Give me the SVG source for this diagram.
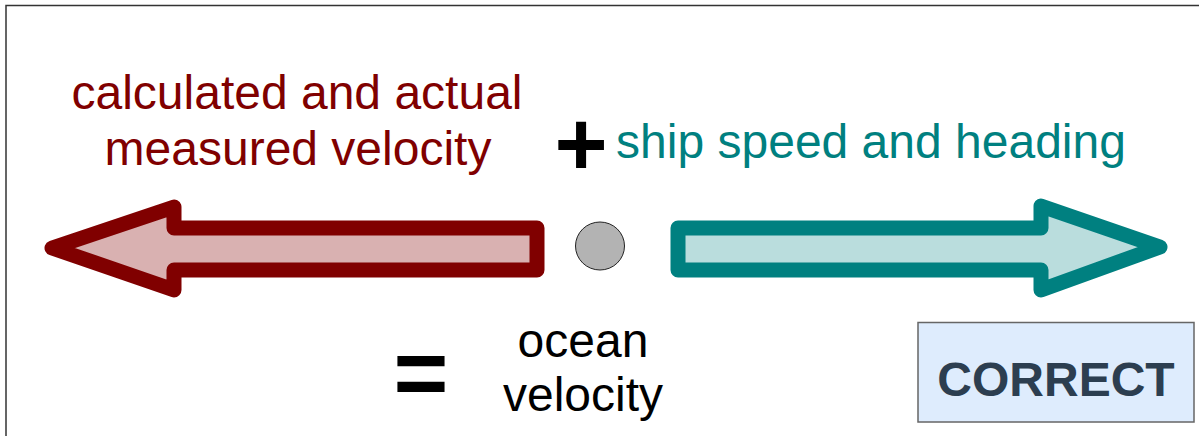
<svg xmlns="http://www.w3.org/2000/svg" width="1199" height="436" viewBox="0 0 1199 436">
<style>
.t{font-family:"Liberation Sans",Arial,sans-serif;font-size:48px;text-anchor:middle}
.sym{font-family:"Liberation Sans",Arial,sans-serif;font-weight:bold;text-anchor:middle;fill:#000}
.arrow{stroke-width:15;stroke-linejoin:round}
</style>
<rect x="6" y="5.5" width="1300" height="500" fill="#fff" stroke="#333" stroke-width="1.5"/>
<g id="left-arrow">
<path class="arrow" d="M52,248 L174,207 L174,228 L537,228 L537,270 L174,270 L174,290 Z" fill="#d9b1b1" stroke="#800000"/>
</g>
<g id="right-arrow">
<path class="arrow" d="M1160,247 L1041,206 L1041,228 L678,228 L678,270 L1041,270 L1041,290 Z" fill="#badddd" stroke="#008080"/>
</g>
<g id="center-dot">
<ellipse cx="600" cy="246" rx="24.5" ry="24" fill="#b3b3b3" stroke="#222" stroke-width="1"/>
</g>
<g id="label-measured">
<text class="t" x="297" y="109" fill="#800000">calculated and actual</text>
<text class="t" x="298" y="165" fill="#800000">measured velocity</text>
</g>
<g id="plus">
<text class="sym" x="581" y="175" font-size="91">+</text>
</g>
<g id="label-ship">
<text class="t" x="871" y="158" fill="#008080">ship speed and heading</text>
</g>
<g id="equals">
<text class="sym" x="421" y="405" font-size="94">=</text>
</g>
<g id="label-ocean">
<text class="t" x="583" y="357" fill="#000">ocean</text>
<text class="t" x="583" y="411" fill="#000">velocity</text>
</g>
<g id="correct">
<rect x="918" y="322.5" width="276" height="99.5" fill="#deecfd" stroke="#666" stroke-width="1.5"/>
<text class="t" x="1056" y="396" fill="#2c3e50" font-weight="bold" font-size="47px">CORRECT</text>
</g>
</svg>
